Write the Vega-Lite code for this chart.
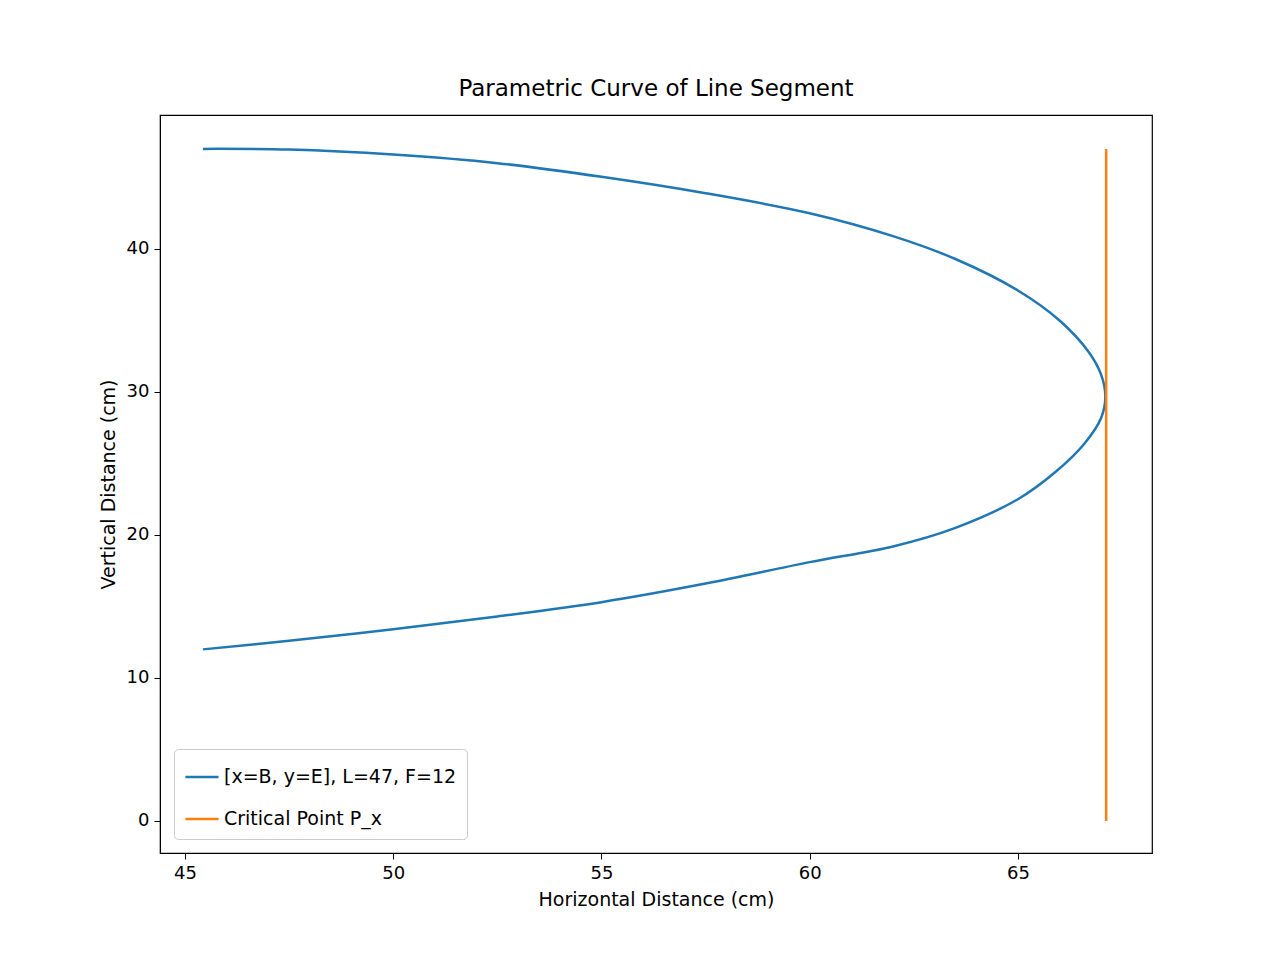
{
"$schema":"https://vega.github.io/schema/vega-lite/v6.json",
"autosize":{"type":"none"},
"padding":{"left":160,"top":115,"right":128,"bottom":107},
"width":992,"height":738,
"title":{"text":"Parametric Curve of Line Segment","font":"DejaVu Sans","fontSize":23,"fontWeight":"normal","offset":14},
"config":{"view":{"stroke":"black","strokeWidth":1.2},"axis":{"grid":false,"labelFont":"DejaVu Sans","titleFont":"DejaVu Sans","labelFontSize":18,"titleFontSize":19,"titleFontWeight":"normal","domainColor":"black","tickColor":"black","labelColor":"black","titleColor":"black","tickSize":6,"labelPadding":5,"titlePadding":8}},
"data":{"values":[
{"s":"[x=B, y=E], L=47, F=12","o":0,"x":45.43,"y":47.0},
{"s":"[x=B, y=E], L=47, F=12","o":1,"x":47.5,"y":46.95},
{"s":"[x=B, y=E], L=47, F=12","o":2,"x":50.0,"y":46.6},
{"s":"[x=B, y=E], L=47, F=12","o":3,"x":52.5,"y":46.0},
{"s":"[x=B, y=E], L=47, F=12","o":4,"x":55.0,"y":45.05},
{"s":"[x=B, y=E], L=47, F=12","o":5,"x":57.5,"y":43.9},
{"s":"[x=B, y=E], L=47, F=12","o":6,"x":60.0,"y":42.5},
{"s":"[x=B, y=E], L=47, F=12","o":7,"x":62.0,"y":40.9},
{"s":"[x=B, y=E], L=47, F=12","o":8,"x":63.5,"y":39.3},
{"s":"[x=B, y=E], L=47, F=12","o":9,"x":65.0,"y":37.1},
{"s":"[x=B, y=E], L=47, F=12","o":10,"x":66.0,"y":35.0},
{"s":"[x=B, y=E], L=47, F=12","o":11,"x":66.7,"y":32.8},
{"s":"[x=B, y=E], L=47, F=12","o":12,"x":67.0,"y":31.2},
{"s":"[x=B, y=E], L=47, F=12","o":13,"x":67.1,"y":29.7},
{"s":"[x=B, y=E], L=47, F=12","o":14,"x":67.0,"y":28.2},
{"s":"[x=B, y=E], L=47, F=12","o":15,"x":66.6,"y":26.4},
{"s":"[x=B, y=E], L=47, F=12","o":16,"x":65.9,"y":24.4},
{"s":"[x=B, y=E], L=47, F=12","o":17,"x":65.0,"y":22.5},
{"s":"[x=B, y=E], L=47, F=12","o":18,"x":63.5,"y":20.5},
{"s":"[x=B, y=E], L=47, F=12","o":19,"x":62.0,"y":19.2},
{"s":"[x=B, y=E], L=47, F=12","o":20,"x":60.0,"y":18.1},
{"s":"[x=B, y=E], L=47, F=12","o":21,"x":57.5,"y":16.6},
{"s":"[x=B, y=E], L=47, F=12","o":22,"x":55.0,"y":15.3},
{"s":"[x=B, y=E], L=47, F=12","o":23,"x":52.5,"y":14.3},
{"s":"[x=B, y=E], L=47, F=12","o":24,"x":50.0,"y":13.4},
{"s":"[x=B, y=E], L=47, F=12","o":25,"x":47.5,"y":12.6},
{"s":"[x=B, y=E], L=47, F=12","o":26,"x":45.43,"y":12.0},
{"s":"Critical Point P_x","o":0,"x":67.12,"y":0},
{"s":"Critical Point P_x","o":1,"x":67.12,"y":47}
]},
"mark":{"type":"line","strokeWidth":2.5,"clip":true,"interpolate":"catmull-rom"},
"encoding":{
"x":{"field":"x","type":"quantitative","scale":{"domain":[44.4,68.22],"nice":false,"zero":false},"axis":{"values":[45,50,55,60,65],"title":"Horizontal Distance (cm)"}},
"y":{"field":"y","type":"quantitative","scale":{"domain":[-2.24,49.37],"nice":false,"zero":false},"axis":{"values":[0,10,20,30,40],"title":"Vertical Distance (cm)"}},
"order":{"field":"o","type":"quantitative"},
"color":{"field":"s","type":"nominal","sort":["[x=B, y=E], L=47, F=12","Critical Point P_x"],"scale":{"range":["#1f77b4","#ff7f0e"]},"legend":{"title":null,"orient":"bottom-left","offset":14,"labelFont":"DejaVu Sans","labelFontSize":19,"labelLimit":500,"symbolType":"stroke","symbolSize":1100,"symbolStrokeWidth":2.5,"strokeColor":"#cccccc","fillColor":"white","padding":10,"cornerRadius":4,"rowPadding":14,"labelColor":"black"}}
}
}
